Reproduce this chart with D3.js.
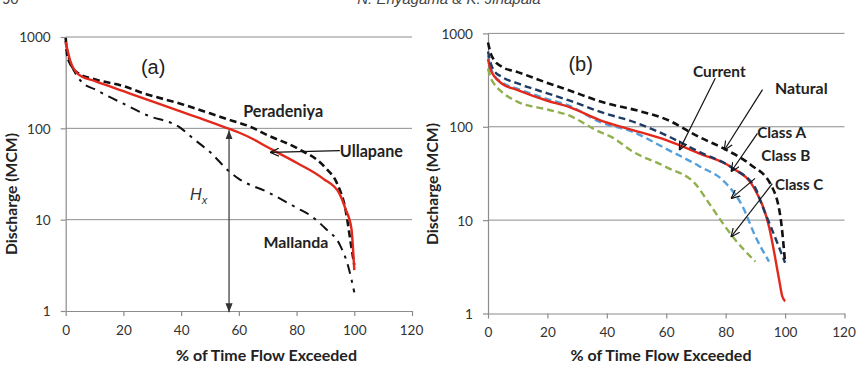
<!DOCTYPE html>
<html><head><meta charset="utf-8">
<script src="https://cdn.jsdelivr.net/npm/d3@7"></script>
<style>body{margin:0;background:#fff}svg{display:block}</style>
</head><body>
<svg id="c" width="857" height="368"></svg>
<script>
// ---- data ----
const xTicks = [0, 20, 40, 60, 80, 100, 120];
const yTicks = [1, 10, 100, 1000];
const yTickLabels = ["1", "10", "100", "1000"];

// Panel (a)
const peradeniyaX = [0, 0.5, 2, 4.4, 10, 20, 27, 40, 50, 57, 64, 70, 80, 90, 94, 97, 99, 100];
const peradeniyaY = [980, 640, 480, 400, 345, 290, 242, 185, 146, 123, 104, 84, 61, 37, 25, 12.7, 5, 3.2];
const ullapaneX = [0, 1.5, 4.4, 10, 20, 27, 40, 46.5, 50, 57, 60, 65, 70, 80, 89.3, 94.8, 97, 99, 100];
const ullapaneY = [880, 560, 390, 330, 255, 213, 152, 129, 118, 98, 90, 76, 62, 42, 28, 19.4, 13, 8, 2.8];
const mallandaX = [0, 1, 3, 6, 10, 15, 20, 28, 40, 44, 50, 57, 60, 70, 80, 85, 90, 95, 98, 100];
const mallandaY = [900, 600, 420, 312, 268, 222, 186, 140, 100, 78, 55, 33, 28, 20, 13.5, 11, 8, 5.3, 3, 1.6];

// Panel (b)
const naturalX = [0, 1, 2, 4.6, 10, 20, 27, 40, 50, 60, 71, 80, 88.5, 95.2, 98.5, 100];
const naturalY = [800, 600, 520, 440, 385, 295, 247, 178, 150, 120, 78, 57, 39, 24, 10.5, 3.5];
const classAX = [0, 1, 2, 4.6, 10, 20, 27, 37.6, 50, 60, 71, 82.4, 90, 92.4, 95.2, 100];
const classAY = [640, 470, 400, 343, 291, 228, 193, 145, 110, 81, 54, 36, 22, 14, 8.5, 3.5];
const currentX = [0, 1, 2, 4.6, 10, 20, 27, 37.6, 48.8, 60, 71, 82.4, 89.6, 94.6, 98, 99, 100];
const currentY = [530, 400, 350, 291, 247, 190, 164, 118, 92, 72, 52, 36, 22, 8.5, 2.3, 1.55, 1.35];
const classBX = [0, 1, 2, 4.6, 10, 20, 27, 37.6, 48.8, 60, 71, 80, 85.7, 90, 94.6];
const classBY = [580, 420, 360, 300, 255, 198, 170, 113, 88, 58, 38, 25, 14, 6.7, 3.6];
const classCX = [0, 1, 2, 4.6, 10, 20, 27, 37.6, 41.5, 48.8, 60, 70, 74.5, 79, 82.3, 90];
const classCY = [420, 330, 290, 237, 185, 153, 133, 88, 78, 54, 37, 24, 15, 9.3, 6.7, 3.6];

// ---- drawing ----
const svg = d3.select("#c");
const CAL = "Lato, 'Open Sans', sans-serif";
const ARI = "'Liberation Sans', Arial, sans-serif";
const GRID = "#8c8c8c";

const defs = svg.append("defs");
defs.append("marker").attr("id", "openArrow").attr("viewBox", "0 0 10 10")
  .attr("refX", 10).attr("refY", 5).attr("markerWidth", 9).attr("markerHeight", 9)
  .attr("markerUnits", "userSpaceOnUse").attr("orient", "auto")
  .append("path").attr("d", "M0,0.5 L10,5 L0,9.5").attr("fill", "none")
  .attr("stroke", "#111").attr("stroke-width", 1.3);
defs.append("marker").attr("id", "solidArrow").attr("viewBox", "0 0 10 10")
  .attr("refX", 10).attr("refY", 5).attr("markerWidth", 9).attr("markerHeight", 9)
  .attr("markerUnits", "userSpaceOnUse").attr("orient", "auto-start-reverse")
  .append("path").attr("d", "M0,1 L10,5 L0,9 Z").attr("fill", "#333");

function fit(sel, w) {
  const L = sel.node().getComputedTextLength();
  const fs = parseFloat(sel.attr("font-size"));
  sel.attr("font-size", (fs * w / L).toFixed(2));
  return sel;
}

function panel(cfg) {
  const x = d3.scaleLinear().domain([0, 120]).range([cfg.x0, cfg.x1]);
  const y = d3.scaleLog().domain([1, 1000]).range([cfg.y0, cfg.y1]);
  const g = svg.append("g");

  g.selectAll("line.grid").data(yTicks.slice(1)).join("line")
    .attr("x1", cfg.x0).attr("x2", cfg.x1)
    .attr("y1", d => y(d)).attr("y2", d => y(d))
    .attr("stroke", GRID).attr("stroke-width", 1);

  const ax = g.append("g").attr("transform", `translate(0,${cfg.y0})`)
    .call(d3.axisBottom(x).tickValues(xTicks).tickSize(5).tickSizeOuter(0).tickPadding(9));
  const ay = g.append("g").attr("transform", `translate(${cfg.x0},0)`)
    .call(d3.axisLeft(y).tickValues(yTicks).tickFormat((d, i) => yTickLabels[i])
      .tickSize(5).tickSizeOuter(0).tickPadding(10));
  [ax, ay].forEach(a => {
    a.select(".domain").attr("stroke", GRID).attr("stroke-width", 1.2);
    a.selectAll(".tick line").attr("stroke", GRID).attr("stroke-width", 1.2);
    a.selectAll("text").attr("font-family", CAL).attr("font-size", 13.6).attr("fill", "#333");
  });
  ay.selectAll("text").attr("dy", "0.36em");
  ax.selectAll("text").filter(d => d === 120).attr("dx", -1);

  const yt = g.append("text").attr("transform", `translate(${cfg.ytX},${cfg.ytY}) rotate(-90)`)
    .attr("text-anchor", "middle").attr("font-family", CAL).attr("font-weight", "bold")
    .attr("font-size", 15).attr("fill", "#222").text("Discharge (MCM)");
  fit(yt, 122);
  const xt = g.append("text").attr("x", cfg.xtX).attr("y", 361)
    .attr("text-anchor", "middle").attr("font-family", CAL).attr("font-weight", "bold")
    .attr("font-size", 15).attr("fill", "#222").text("% of Time Flow Exceeded");
  fit(xt, 181);

  return { g, x, y };
}

function series(p, xs, ys, color, width, dash) {
  const pts = xs.map((d, i) => [d, ys[i]]);
  p.g.append("path").datum(pts)
    .attr("d", d3.line().x(d => p.x(d[0])).y(d => p.y(d[1])).curve(d3.curveMonotoneX))
    .attr("fill", "none").attr("stroke", color).attr("stroke-width", width)
    .attr("stroke-dasharray", dash || null).attr("stroke-linejoin", "round");
}

function label(p, text, xv, yv, w, opts = {}) {
  const t = p.g.append("text").attr("x", p.x(xv)).attr("y", p.y(yv))
    .attr("text-anchor", opts.anchor || "start")
    .attr("font-family", opts.font || CAL).attr("font-weight", opts.weight || "bold")
    .attr("font-size", 15).attr("fill", "#222").text(text);
  if (w) fit(t, w);
  return t;
}

function arrow(p, x1, y1, x2, y2, marker) {
  p.g.append("line").attr("x1", p.x(x1)).attr("y1", p.y(y1))
    .attr("x2", p.x(x2)).attr("y2", p.y(y2))
    .attr("stroke", marker === "solidArrow" ? "#333" : "#111").attr("stroke-width", 1.2)
    .attr("marker-end", `url(#${marker})`)
    .attr("marker-start", marker === "solidArrow" ? `url(#${marker})` : null);
}

// running header of the page (cut off at the top edge, as in the reference)
svg.append("text").attr("x", 449).attr("y", 4).attr("text-anchor", "middle")
  .attr("font-family", ARI).attr("font-style", "italic").attr("font-size", 15)
  .attr("fill", "#444").text("N. Eriyagama & K. Jinapala");
svg.append("text").attr("x", 2).attr("y", 4)
  .attr("font-family", ARI).attr("font-size", 15).attr("fill", "#444").text("90");

// ---- Panel (a)
const A = panel({ x0: 65.7, x1: 412, y0: 311, y1: 37, ytX: 17, ytY: 194, xtX: 266.5 });
series(A, mallandaX, mallandaY, "#111", 2, "10,6,3,6");
series(A, peradeniyaX, peradeniyaY, "#111", 2.6, "7,4");
series(A, ullapaneX, ullapaneY, "#e3291d", 2.4);
label(A, "(a)", 30.3, 394, null, { anchor: "middle", font: ARI, weight: "normal" }).attr("font-size", 20);
label(A, "Peradeniya", 61.5, 133, 80);
label(A, "Ullapane", 95, 48.9, 63);
label(A, "Mallanda", 68.5, 4.85, 65);
arrow(A, 95, 57, 70.8, 54.5, "openArrow");
arrow(A, 56.6, 95, 56.6, 0.97, "solidArrow");
const hx = A.g.append("text").attr("x", A.x(43.1)).attr("y", A.y(16.4))
  .attr("font-family", ARI).attr("font-style", "italic").attr("font-size", 16).attr("fill", "#333");
hx.append("tspan").text("H");
hx.append("tspan").attr("font-size", 11).attr("dy", 4).text("x");

// ---- Panel (b)
const B = panel({ x0: 488, x1: 844.5, y0: 313.5, y1: 33.4, ytX: 438, ytY: 184, xtX: 661 });
series(B, classCX, classCY, "#8fb04d", 2.4, "7,4");
series(B, classBX, classBY, "#55a0db", 2.4, "7,4");
series(B, currentX, currentY, "#e3291d", 2.4);
series(B, classAX, classAY, "#1f3b64", 2.4, "7,4");
series(B, naturalX, naturalY, "#111", 2.6, "7,4");
label(B, "(b)", 31.2, 398, null, { anchor: "middle", font: ARI, weight: "normal" }).attr("font-size", 20);
label(B, "Current", 69, 338, 52.7);
label(B, "Natural", 96.6, 224, 52.7);
label(B, "Class A", 90.6, 75.9, 49);
label(B, "Class B", 92, 43.3, 49);
label(B, "Class C", 96.6, 20.9, 48.3);
arrow(B, 76.5, 330, 64.4, 56, "openArrow");
arrow(B, 92.4, 250, 79.5, 56, "openArrow");
arrow(B, 90.7, 85, 81.8, 33, "openArrow");
arrow(B, 89.9, 28, 81.8, 17, "openArrow");
arrow(B, 95.7, 24.6, 81.8, 6.6, "openArrow");
</script>
</body></html>
